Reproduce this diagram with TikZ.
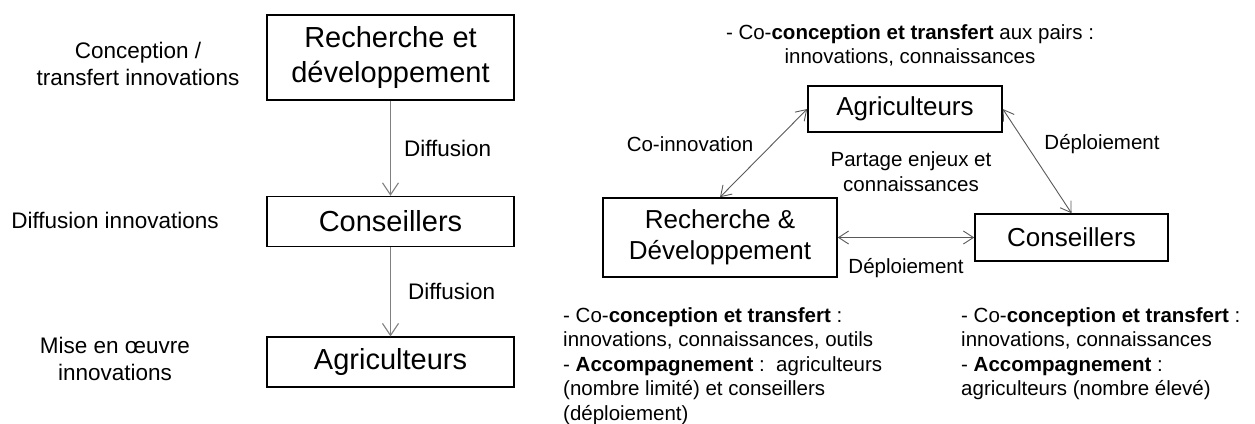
\documentclass[tikz,border=0pt]{standalone}
\usepackage{fontspec}
\setmainfont{Liberation Sans}
\usepackage{xcolor}
\usetikzlibrary{positioning,arrows.meta}

\definecolor{arrgray}{HTML}{808080}
\definecolor{linkgray}{HTML}{595959}

\begin{document}
\begin{tikzpicture}[x=1pt, y=-1pt,
    box/.style={draw, line width=1.6pt, inner sep=0pt, align=center, minimum width=247pt, font=\fontsize{29}{34.8}\selectfont},
    rbox/.style={draw, line width=1.6pt, inner sep=0pt, align=center, font=\fontsize{26}{31.2}\selectfont},
    txt/.style={align=center, inner sep=0pt, font=\fontsize{22.5}{27}\selectfont},
    note/.style={align=left, inner sep=0pt, font=\fontsize{20.5}{24.6}\selectfont},
    lbl/.style={inner sep=0pt, font=\fontsize{22.5}{27}\selectfont},
    arr/.style={draw=arrgray, line width=1.1pt, -{Straight Barb[length=12pt, width=16pt]}},
    darr/.style={draw=linkgray, line width=0.9pt, {Straight Barb[length=10pt, width=13pt]}-{Straight Barb[length=10pt, width=13pt]}},
]
\useasboundingbox (0,0) rectangle (1255,423);

% --- Linear model ---
\node[box, minimum height=85pt] (rd1) at (390.5,57.5) {Recherche et\\développement};
\node[box, minimum height=50pt, below=95pt of rd1] (cons1) {Conseillers};
\node[box, minimum height=50pt, below=89pt of cons1] (agri1) {Agriculteurs};

\draw[arr] (rd1) -- (cons1) node[lbl, midway, right=13pt] {Diffusion};
\draw[arr] (cons1) -- (agri1) node[lbl, midway, right=17pt] {Diffusion};

% Roles on the left
\node[txt] (conc) at (138,63.5) {Conception /\\transfert innovations};
\node[txt] (diff) at (115,220) {Diffusion innovations};
\node[txt] (mise) at (115,358.5) {Mise en œuvre\\innovations};

% --- Network model ---
\node[rbox, minimum width=194pt, minimum height=46pt] (agri2) at (905,109) {Agriculteurs};
\node[rbox, minimum width=234pt, minimum height=79pt] (rd2) at (720,237.5) {Recherche \&\\Développement};
\node[rbox, minimum width=193pt, minimum height=47pt] (cons2) at (1071.5,237.5) {Conseillers};

\node[note, align=center] (pairs) at (910,45.5) {- Co-\textbf{conception et transfert} aux pairs :\\innovations, connaissances};
\node[note, align=center] (partage) at (911,171.5) {Partage enjeux et\\connaissances};

% Links
\draw[darr] (rd2.north) -- (agri2.west);
\draw[darr] (agri2.east) -- (cons2.north);
\draw[darr] (rd2.east) -- (cons2.west) node[note, midway, below=20pt] {Déploiement};

\node[note] (coinno) at (690,144) {Co-innovation};
\node[note] (depl) at (1102,144) {Déploiement};

% Notes under the boxes
\node[note, anchor=north west] (rdnote) at (563,307) {- Co-\textbf{conception et transfert} :\\innovations, connaissances, outils\\- \textbf{Accompagnement} :\ \ agriculteurs\\(nombre limité) et conseillers\\(déploiement)};
\node[note, anchor=north west] (consnote) at (961,307) {- Co-\textbf{conception et transfert} :\\innovations, connaissances\\- \textbf{Accompagnement} :\\agriculteurs (nombre élevé)};

\end{tikzpicture}
\end{document}
